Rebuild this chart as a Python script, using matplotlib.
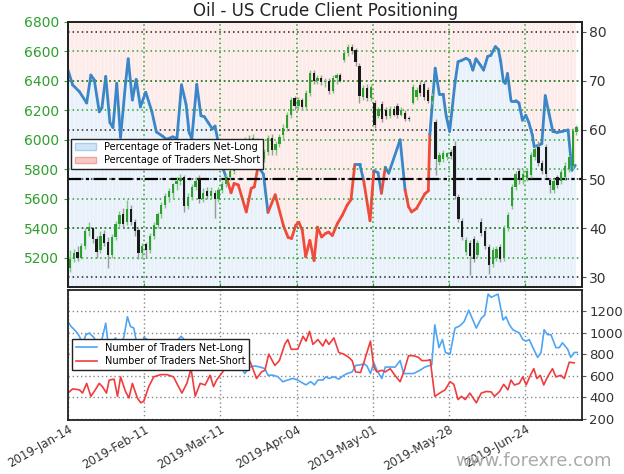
import numpy as np
import matplotlib
matplotlib.use("Agg")
import matplotlib.pyplot as plt
from matplotlib.collections import LineCollection
from matplotlib.patches import Patch

# ---- x axis: trading-day index with a date label every 20 sessions ------
tick_pos = [0, 20, 40, 60, 80, 100, 120]
tick_labels = ["2019-Jan-14", "2019-Feb-11", "2019-Mar-11", "2019-Apr-04",
               "2019-May-01", "2019-May-28", "2019-Jun-24"]

# ---- US crude daily candles ----------------------------------------------
cndl_open = [5130, 5190, 5240, 5200, 5280, 5380, 5400, 5330, 5250, 5360,
             5310, 5220, 5340, 5430, 5500, 5440, 5530, 5440, 5390, 5230,
             5290, 5250, 5350, 5420, 5500, 5560, 5610, 5640, 5700, 5720,
             5750, 5550, 5610, 5680, 5740, 5600, 5650, 5620, 5640, 5600,
             5660, 5700, 5750, 5790, 5830, 5870, 5940, 6000, 5970, 6000,
             5840, 5870, 5920, 6010, 5930, 5970, 6030, 6080, 6170, 6280,
             6230, 6270, 6220, 6320, 6450, 6400, 6420, 6390, 6400, 6330,
             6420, 6440, 6540, 6590, 6630, 6610, 6500, 6290, 6350, 6280,
             6250, 6160, 6240, 6200, 6160, 6210, 6230, 6170, 6180, 6150,
             6250, 6290, 6370, 6380, 6340, 6260, 6120, 5850, 5870, 5880,
             5920, 5960, 5610, 5450, 5240, 5300, 5330, 5220, 5440, 5380,
             5270, 5160, 5200, 5270, 5200, 5400, 5550, 5680, 5790, 5730,
             5740, 5760, 5880, 5950, 5840, 5950, 5730, 5660, 5750, 5720,
             5750, 5800, 5820, 6050]
cndl_high = [5250, 5260, 5280, 5300, 5400, 5440, 5410, 5350, 5380, 5390,
             5340, 5360, 5450, 5520, 5540, 5590, 5560, 5460, 5400, 5300,
             5310, 5370, 5440, 5510, 5580, 5640, 5670, 5710, 5750, 5770,
             5760, 5640, 5700, 5750, 5760, 5670, 5680, 5680, 5660, 5680,
             5720, 5770, 5810, 5850, 5890, 5960, 6020, 6030, 6040, 6010,
             5890, 5940, 6030, 6040, 5990, 6040, 6110, 6190, 6290, 6300,
             6290, 6280, 6340, 6470, 6470, 6440, 6440, 6420, 6420, 6440,
             6450, 6450, 6610, 6650, 6650, 6620, 6520, 6370, 6380, 6380,
             6270, 6220, 6260, 6220, 6230, 6230, 6250, 6220, 6200, 6160,
             6380, 6360, 6400, 6400, 6360, 6320, 6140, 5920, 5930, 5920,
             5940, 5990, 5630, 5470, 5340, 5320, 5350, 5320, 5470, 5400,
             5290, 5270, 5280, 5290, 5420, 5510, 5700, 5790, 5810, 5800,
             5810, 5920, 5960, 5990, 5860, 5970, 5740, 5740, 5760, 5800,
             5850, 5900, 6080, 6100]
cndl_low = [5100, 5170, 5180, 5190, 5260, 5350, 5300, 5200, 5230, 5280,
            5130, 5200, 5320, 5400, 5410, 5420, 5420, 5350, 5190, 5190,
            5200, 5230, 5330, 5400, 5470, 5540, 5580, 5600, 5660, 5690,
            5510, 5530, 5590, 5660, 5570, 5580, 5600, 5600, 5470, 5580,
            5640, 5680, 5730, 5770, 5800, 5850, 5910, 5940, 5950, 5810,
            5820, 5850, 5900, 5900, 5900, 5950, 6000, 6060, 6150, 6200,
            6210, 6200, 6200, 6300, 6380, 6380, 6370, 6360, 6310, 6320,
            6380, 6390, 6530, 6570, 6580, 6500, 6250, 6270, 6260, 6260,
            6080, 6150, 6120, 6140, 6150, 6160, 6150, 6160, 6130, 6130,
            6240, 6270, 6300, 6270, 6250, 6240, 5760, 5830, 5850, 5860,
            5870, 5600, 5440, 5320, 5220, 5080, 5170, 5200, 5350, 5260,
            5090, 5140, 5180, 5170, 5180, 5380, 5530, 5660, 5700, 5700,
            5720, 5740, 5860, 5820, 5770, 5750, 5640, 5640, 5670, 5700,
            5730, 5780, 5800, 6030]
cndl_close = [5190, 5230, 5200, 5280, 5380, 5410, 5330, 5240, 5350, 5300,
              5220, 5340, 5430, 5490, 5430, 5530, 5440, 5380, 5230, 5280,
              5250, 5350, 5420, 5500, 5560, 5620, 5650, 5700, 5720, 5740,
              5550, 5610, 5680, 5720, 5600, 5640, 5620, 5650, 5600, 5660,
              5700, 5750, 5790, 5830, 5870, 5940, 5990, 5970, 6010, 5840,
              5870, 5920, 6010, 5930, 5970, 6020, 6080, 6170, 6270, 6230,
              6270, 6220, 6320, 6450, 6400, 6420, 6390, 6400, 6330, 6420,
              6440, 6400, 6590, 6630, 6600, 6530, 6300, 6350, 6280, 6360,
              6100, 6210, 6140, 6160, 6210, 6170, 6170, 6200, 6140, 6140,
              6360, 6340, 6320, 6290, 6260, 6300, 5870, 5900, 5910, 5910,
              5890, 5620, 5460, 5340, 5320, 5210, 5190, 5300, 5370, 5280,
              5150, 5250, 5260, 5190, 5400, 5490, 5680, 5770, 5730, 5770,
              5790, 5900, 5940, 5840, 5790, 5770, 5690, 5720, 5690, 5780,
              5820, 5880, 6060, 6090]

# ---- % of traders net-long (vertices of the sentiment line) --------------
pct_idx = [0, 1.2, 3, 4.9, 6, 6.9, 8.2, 8.9, 9.9, 11, 11.8, 12.8, 13.8,
           15.1, 15.8, 16.9, 17.9, 19, 20.4, 22, 23.2, 24.9, 25.8, 27.5,
           28.6, 29.8, 31, 31.8, 32.5, 33.8, 34.9, 35.8, 36.9, 37.9, 38.6,
           39.3, 40.5, 41.8, 42.8, 43.6, 44.7, 46.8, 48.1, 48.9, 49.9, 51.3,
           52.5, 54.4, 56.6, 57.8, 58.7, 59.8, 60.6, 61.5, 62.4, 63.5, 64.6,
           65.5, 66.6, 67.6, 68.4, 69.4, 70.7, 72.0, 73.3, 74.3, 75.3, 76.6,
           77.6, 79.3, 80.3, 81.4, 82.3, 83.3, 84.2, 87.2, 88.5, 89.4, 90.2,
           91.5, 93.7, 94.6, 95.0, 96.4, 97.5, 98.5, 99.3, 100.2, 101.6,
           102.4, 103.4, 104.5, 105.4, 106.3, 107.1, 108.2, 109.1, 110.2,
           111.0, 112.2, 113.0, 113.6, 114.3, 114.8, 115.4, 116.3, 117.6,
           118.4, 119.3, 120.2, 121.0, 121.9, 122.4, 123.6, 124.4, 125.3,
           126.3, 127.3, 128.4, 129.7, 131.3, 132.3, 133.2]
pct_long = [72.2, 69.2, 67.8, 65.5, 71.2, 70.2, 63.7, 64.5, 70.9, 61.5, 60.5,
            69.5, 58.5, 69.5, 74.5, 66.1, 70.3, 64.7, 67.7, 63.8, 59.6, 58.7,
            58.1, 58.6, 58.3, 69.2, 65.2, 59.5, 58.2, 69.3, 62.9, 62.7, 61.4,
            60.2, 60.8, 58.0, 52.5, 49.8, 47.2, 49.1, 48.8, 43.3, 48.1, 48.4,
            52.6, 51.0, 43.2, 46.8, 40.4, 38.1, 37.9, 40.6, 41.2, 39.6, 34.2,
            37.5, 33.4, 40.2, 38.2, 38.9, 39.2, 38.5, 40.9, 42.6, 44.7, 45.8,
            53.0, 53.0, 49.8, 41.5, 51.7, 51.3, 47.1, 52.4, 51.2, 58.0, 47.8,
            44.4, 43.3, 44.0, 47.0, 47.6, 59.1, 72.6, 67.3, 67.3, 62.8, 59.7,
            69.6, 73.9, 74.2, 74.6, 74.2, 72.2, 74.5, 73.3, 72.2, 75.0, 75.2,
            77.0, 76.4, 74.0, 69.9, 69.5, 71.5, 66.0, 66.0, 65.5, 62.0, 63.0,
            61.5, 59.0, 56.6, 56.9, 57.2, 67.0, 63.3, 59.7, 59.5, 59.7, 60.0,
            51.8, 52.8]

# ---- number of traders (lower panel) -------------------------------------
nlong_idx = [0, 0.8, 2.1, 3, 3.8, 4.7, 5.6, 6.9, 7.7, 9, 9.9, 10.6, 11.7,
             12.5, 13.4, 14.7, 15.6, 16.4, 17.3, 18.2, 19, 19.9, 20.8, 22,
             23.5, 25, 26.5, 28, 29.7, 30.6, 32, 34, 36, 38, 40, 42, 43.5,
             45, 46.4, 47.7, 49, 50.5, 51.7, 52.5, 53.8, 55.1, 56.4, 57.7, 59,
             60.3, 61.7, 62.5, 63.7, 64.7, 65.6, 66.9, 67.7, 68.5, 69.8, 71.1,
             72.4, 73.3, 74.6, 75.5, 76.8, 77.7, 78.5, 79.4, 80.3, 81.1, 82.4,
             83.3, 84.6, 85.9, 87.2, 88.1, 89.4, 90.7, 92.4, 93.7, 95.5, 96.3,
             97.4, 98.3, 99.1, 100.3, 101.6, 102.9, 104, 105.2, 106.3, 107.2,
             108.5, 109.4, 110.3, 111.1, 112, 112.9, 114.2, 115, 115.9, 116.8,
             117.6, 118.5, 119.4, 120.3, 121.1, 122.2, 123.3, 124.2, 125,
             125.9, 126.8, 128.1, 129, 129.8, 131.2, 132, 132.9, 133.7]
nlong = [1100, 1056, 1010, 965, 890, 980, 995, 950, 860, 950, 1086, 875, 920,
         950, 830, 965, 1146, 1056, 1041, 860, 650, 955, 935, 900, 880, 900,
         870, 900, 965, 930, 870, 850, 820, 800, 780, 760, 740, 710, 620, 680,
         690, 680, 665, 605, 605, 590, 544, 560, 575, 560, 530, 515, 545, 515,
         560, 560, 590, 574, 590, 568, 604, 620, 635, 695, 701, 710, 690, 620,
         719, 650, 574, 680, 680, 680, 740, 620, 620, 620, 650, 680, 700,
         1071, 860, 935, 815, 800, 1041, 1062, 1101, 1206, 1116, 1041, 1131,
         1161, 1356, 1326, 1341, 1356, 1116, 1146, 1071, 1026, 1011, 996, 935,
         920, 935, 850, 770, 815, 1026, 980, 980, 860, 860, 905, 845, 770,
         815, 815]
nshort_idx = [0, 1.2, 3, 3.8, 4.9, 6, 7, 8.2, 9, 10.1, 10.8, 12.1, 13, 13.8,
              15.1, 16, 16.9, 18.2, 19.1, 19.9, 21.2, 22.5, 24.3, 26, 27.7,
              29, 29.9, 31.2, 32.3, 33.4, 34.7, 36, 37.3, 38.2, 39, 40.3,
              41.2, 42.5, 43.5, 45.1, 46.9, 48.2, 49.5, 50.8, 51.7, 52.7,
              54.3, 55.5, 56.9, 57.7, 58.6, 60.3, 61.7, 62.5, 63.4, 64.3,
              65.6, 66.9, 67.7, 68.5, 69.8, 71.1, 72.4, 73.7, 74.6, 75.5,
              76.8, 77.7, 79.4, 80.3, 81.1, 82.4, 83.3, 84.6, 85.9, 87.2,
              88.3, 89.4, 90.7, 92, 92.9, 94.2, 95.1, 96.3, 97.6, 99, 100.3,
              101.3, 102.4, 103.3, 104.3, 105.5, 107.2, 108.5, 109.8, 111.1,
              112, 113.3, 114.4, 115.5, 116.3, 117.2, 118.5, 119.4, 120.3,
              121.4, 122.3, 123.1, 124, 124.9, 125.9, 127.2, 128.1, 129.4,
              130.3, 131.6, 132.9]
nshort = [439, 478, 469, 439, 529, 409, 460, 529, 500, 439, 559, 568, 409,
          589, 454, 394, 529, 394, 349, 364, 499, 589, 610, 610, 589, 499,
          439, 529, 665, 410, 529, 514, 604, 499, 559, 620, 665, 730, 700,
          770, 800, 695, 574, 635, 650, 800, 695, 740, 890, 935, 845, 845,
          965, 920, 1011, 890, 935, 875, 935, 890, 950, 815, 800, 770, 740,
          635, 629, 725, 920, 680, 635, 650, 635, 665, 600, 544, 650, 785,
          785, 770, 740, 740, 748, 409, 439, 469, 544, 520, 379, 409, 379,
          439, 349, 439, 454, 450, 409, 454, 520, 469, 560, 514, 529, 589,
          514, 604, 665, 574, 604, 514, 589, 665, 589, 604, 574, 725, 719]

GREEN = "#2ca02c"
LINE_BLUE = "#3a86c8"
LINE_RED = "#f24a3a"
FILL_BLUE = "#e8f1fa"
FILL_RED = "#fdebea"
DARK = "#222222"

fig = plt.figure(figsize=(6.24, 4.74), dpi=100)
ax_pct = fig.add_axes([0.109, 0.394, 0.824, 0.560])
ax_px = ax_pct.twinx()
ax_n = fig.add_axes([0.109, 0.114, 0.824, 0.274])

ax_pct.yaxis.tick_right()
ax_px.yaxis.tick_left()

# ---- sentiment background + line ---------------------------------------
ax_pct.fill_between(pct_idx, 0, pct_long, color=FILL_BLUE, lw=0, zorder=0.5)
ax_pct.fill_between(pct_idx, pct_long, 100, color=FILL_RED, lw=0, zorder=0.5)
ax_pct.vlines(np.arange(0, 135) + 0.5, 0, 100, colors="white", lw=0.5,
              alpha=0.6, zorder=0.6)

pts = np.column_stack([pct_idx, pct_long])
segs = np.stack([pts[:-1], pts[1:]], axis=1)
seg_cols = [LINE_BLUE if v >= 50 else LINE_RED for v in pct_long[:-1]]
ax_pct.add_collection(LineCollection(segs, colors=seg_cols, lw=2.0,
                                     capstyle="round", joinstyle="round",
                                     zorder=3))
ax_pct.axhline(50, color="black", lw=1.6, ls=(0, (6, 2, 1.5, 2)), zorder=4)

ax_pct.set_xlim(0, 135)
ax_pct.set_ylim(27.96, 82.04)
ax_pct.set_yticks([30, 40, 50, 60, 70, 80])
ax_pct.set_xticks(tick_pos)
ax_pct.tick_params(axis="x", direction="in", length=3, colors=GREEN,
                   labelbottom=False)
ax_pct.tick_params(axis="y", labelsize=10, labelcolor="#333333",
                   color="#555555", length=3, pad=2)
ax_pct.grid(axis="y", color=DARK, ls=(0, (1, 2)), lw=1.1, zorder=1)
ax_pct.grid(axis="x", color=GREEN, ls=(0, (1, 2)), lw=1.1, zorder=1)

# ---- candles ------------------------------------------------------------
x = np.arange(len(cndl_open)) + 0.5
o = np.array(cndl_open)
c = np.array(cndl_close)
up = c >= o
body_cols = np.where(up, GREEN, "#1a1a1a")
wick_cols = np.where(up, "#80c880", "#9a9a9a")
ax_px.vlines(x, cndl_low, cndl_high, colors=wick_cols, lw=1.0, zorder=2)
ax_px.bar(x, np.maximum(np.abs(c - o), 6), bottom=np.minimum(o, c),
          width=0.6, color=body_cols, lw=0, zorder=3)
ax_px.set_ylim(5000, 6800)
ax_px.set_yticks(np.arange(5200, 6801, 200))
ax_px.tick_params(axis="y", labelsize=10, colors=GREEN, length=3)
ax_px.grid(axis="y", color=GREEN, ls=(0, (1, 2)), lw=1.1)

leg = ax_px.legend(handles=[Patch(facecolor="#cfe5f8", edgecolor="#a9cdef",
                                  label="Percentage of Traders Net-Long"),
                            Patch(facecolor="#f9c9c6", edgecolor="#f2a5a0",
                                  label="Percentage of Traders Net-Short")],
                   loc="upper left", bbox_to_anchor=(0.006, 0.56),
                   fontsize=7, frameon=True, fancybox=False, framealpha=1,
                   borderpad=0.35, labelspacing=0.35, handlelength=2.2,
                   borderaxespad=0)
leg.get_frame().set_edgecolor(DARK)
leg.get_frame().set_linewidth(1.0)
leg.set_zorder(10)

for a in (ax_pct, ax_px):
    for s in a.spines.values():
        s.set_color(DARK)
        s.set_linewidth(1.3)

ax_pct.set_title("Oil - US Crude Client Positioning", fontsize=12,
                 color="#222222", pad=4)

# ---- number of traders panel --------------------------------------------
ax_n.plot(nlong_idx, nlong, color="#4ea5f5", lw=1.2,
          label="Number of Traders Net-Long")
ax_n.plot(nshort_idx, nshort, color="#f03c3c", lw=1.2,
          label="Number of Traders Net-Short")
ax_n.set_xlim(0, 135)
ax_n.set_ylim(190, 1393)
ax_n.yaxis.tick_right()
ax_n.set_yticks([200, 400, 600, 800, 1000, 1200])
ax_n.tick_params(axis="y", labelsize=9.5, labelcolor="#333333",
                 color="#555555", length=3, pad=2)
ax_n.set_xticks(tick_pos)
ax_n.set_xticklabels(tick_labels, rotation=30, ha="right",
                     rotation_mode="anchor", fontsize=8.5, color="#333333")
ax_n.tick_params(axis="x", length=0, pad=2)
ax_n.grid(color="#888888", ls=(0, (1, 2)), lw=1.0)
for s in ax_n.spines.values():
    s.set_color(DARK)
    s.set_linewidth(1.3)
leg2 = ax_n.legend(loc="upper left", bbox_to_anchor=(0.008, 0.62),
                   fontsize=7, frameon=True, fancybox=False, framealpha=1,
                   borderpad=0.35, labelspacing=0.35, handlelength=2.2,
                   borderaxespad=0)
leg2.get_frame().set_edgecolor(DARK)
leg2.get_frame().set_linewidth(1.0)

fig.text(0.981, 0.008, "www.forexre.com", ha="right", va="bottom",
         fontsize=13, color="#aaaaaa")

fig.savefig("out.png", dpi=100)
